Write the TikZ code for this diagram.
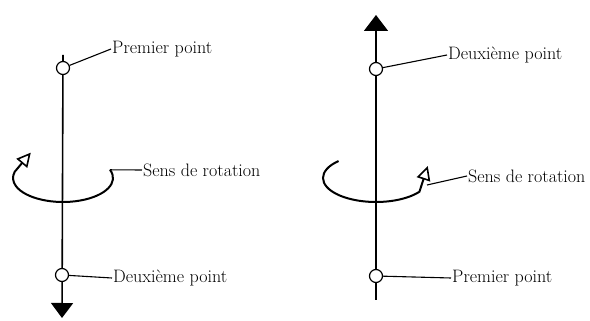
\documentclass[tikz,border=0pt]{standalone}
\usetikzlibrary{arrows.meta, positioning}

\begin{document}
\begin{tikzpicture}[x=1pt, y=1pt,
    pt/.style={circle, draw, line width=1.2pt, fill=white, inner sep=0pt, minimum size=13pt},
    lbl/.style={anchor=west, inner sep=1pt, font=\fontsize{18}{21}\selectfont},
    axe/.style={line width=1.6pt},
    rot/.style={line width=2pt},
    lead/.style={line width=1.1pt}]
\useasboundingbox (0,0) rectangle (590,321);

% gauche : premier point en haut
\draw[axe, -{Triangle[width=22pt, length=15pt]}] (63,266) -- (62,3);
\node[pt] (p1) at (63,253) {};
\node[pt] (p2) at (62,46) {};
\coordinate (c1) at (63,143);
\draw[rot, -{Triangle[open, width=14pt, length=14pt, line width=1.6pt]}]
    ([shift={(20:50pt and 24pt)}]c1) coordinate (r1)
    arc[start angle=20, end angle=-195, x radius=50pt, y radius=24pt]
    -- ++(50:25pt);
\node[lbl] (l1) at (111,272) {Premier point};
\node[lbl] (l2) at (142,151) {Sens de rotation};
\node[lbl] (l3) at (112,43) {Deuxième point};
\draw[lead] (p1) -- (l1.west);
\draw[lead] (r1) -- (l2.west);
\draw[lead] (p2) -- (l3.west);

% droite : deuxieme point en haut
\draw[axe, -{Triangle[width=24pt, length=16pt]}] (376,21) -- (376,306);
\node[pt] (p3) at (376,252) {};
\node[pt] (p4) at (376,45) {};
\coordinate (c2) at (376,143);
\draw[rot, -{Triangle[open, width=14pt, length=14pt, line width=1.6pt]}]
    ([shift={(135:53pt and 24pt)}]c2)
    arc[start angle=135, end angle=325, x radius=53pt, y radius=24pt]
    -- ++(72:27pt);
\coordinate (r2) at (427,136);
\node[lbl] (l4) at (447,266) {Deuxième point};
\node[lbl] (l5) at (467,145) {Sens de rotation};
\node[lbl] (l6) at (451,43) {Premier point};
\draw[lead] (p3) -- (l4.west);
\draw[lead] (r2) -- (l5.west);
\draw[lead] (p4) -- (l6.west);
\end{tikzpicture}
\end{document}
